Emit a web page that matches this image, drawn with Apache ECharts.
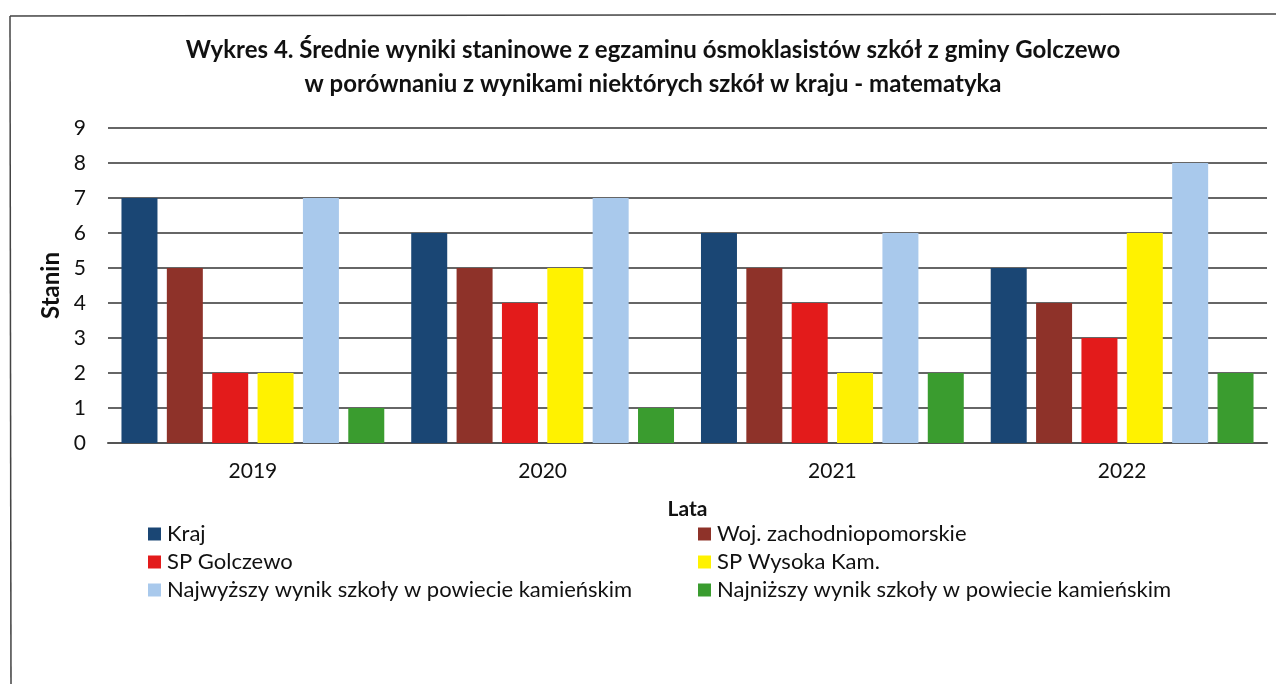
<!DOCTYPE html>
<html><head><meta charset="utf-8">
<script src="https://cdn.jsdelivr.net/npm/echarts@6/dist/echarts.min.js"></script>
<style>html,body{margin:0;padding:0;background:#fff}#c{width:1282px;height:684px}</style>
</head><body><div id="c"></div>
<script>
const years = ['2019', '2020', '2021', '2022'];
const seriesNames = ['Kraj', 'Woj. zachodniopomorskie', 'SP Golczewo', 'SP Wysoka Kam.', 'Najwyższy wynik szkoły w powiecie kamieńskim', 'Najniższy wynik szkoły w powiecie kamieńskim'];
const kraj = [7, 6, 6, 5];
const woj = [5, 5, 5, 4];
const golczewo = [2, 4, 4, 3];
const wysoka = [2, 5, 2, 6];
const najwyzszy = [7, 7, 6, 8];
const najnizszy = [1, 1, 2, 2];
const yTicks = [0, 1, 2, 3, 4, 5, 6, 7, 8, 9];
const colors = ['#1a4674', '#8e3229', '#e31b1b', '#fff200', '#a9c9ec', '#3a9c2f'];
const values = [kraj, woj, golczewo, wysoka, najwyzszy, najnizszy];
const font = 'Lato, "Open Sans", sans-serif';

const chart = echarts.init(document.getElementById('c'));
chart.setOption({
  animation: false,
  color: colors,
  title: {
    text: 'Wykres 4. Średnie wyniki staninowe z egzaminu ósmoklasistów szkół z gminy Golczewo\nw porównaniu z wynikami niektórych szkół w kraju - matematyka',
    left: 648, top: 28, textAlign: 'center',
    textStyle: {fontFamily: font, fontSize: 24, fontWeight: 'bold', color: '#111', lineHeight: 34}
  },
  grid: {left: 108, right: 15, top: 128, bottom: 241},
  legend: [
    {data: [seriesNames[0], seriesNames[2], seriesNames[4]], orient: 'vertical', left: 143, top: 517,
     itemWidth: 13, itemHeight: 13, itemGap: 4, icon: 'rect',
     textStyle: {fontFamily: font, fontSize: 22, color: '#111', lineHeight: 24, padding: [0, 0, 0, 1]}},
    {data: [seriesNames[1], seriesNames[3], seriesNames[5]], orient: 'vertical', left: 693, top: 517,
     itemWidth: 13, itemHeight: 13, itemGap: 4, icon: 'rect',
     textStyle: {fontFamily: font, fontSize: 22, color: '#111', lineHeight: 24, padding: [0, 0, 0, 1]}}
  ],
  xAxis: {
    type: 'category', data: years,
    name: 'Lata', nameLocation: 'middle', nameGap: 56,
    nameTextStyle: {fontFamily: font, fontSize: 21, fontWeight: 'bold', color: '#111'},
    axisLine: {lineStyle: {color: '#555', width: 2}},
    axisTick: {show: false},
    axisLabel: {fontFamily: font, fontSize: 21, color: '#111', margin: 18}
  },
  yAxis: {
    type: 'value', min: 0, max: 9, interval: 1,
    name: 'Stanin', nameLocation: 'middle', nameGap: 44, nameRotate: 90,
    nameTextStyle: {fontFamily: font, fontSize: 24, fontWeight: 'bold', color: '#111'},
    axisLine: {show: false}, axisTick: {show: false},
    axisLabel: {fontFamily: font, fontSize: 21, color: '#111', margin: 22,
      formatter: v => yTicks.includes(v) ? String(v) : ''},
    splitLine: {lineStyle: {color: '#333', width: 1.5}}
  },
  series: seriesNames.map((n, i) => ({
    name: n, type: 'bar', data: values[i], barWidth: 36, barGap: '26%',
    itemStyle: {color: colors[i]}
  })),
  graphic: [
    {type: 'line', shape: {x1: 10, y1: 16, x2: 1276, y2: 14}, style: {stroke: '#444', lineWidth: 1.5}},
    {type: 'line', shape: {x1: 10, y1: 16, x2: 11, y2: 684}, style: {stroke: '#444', lineWidth: 1.5}}
  ]
});
</script></body></html>
